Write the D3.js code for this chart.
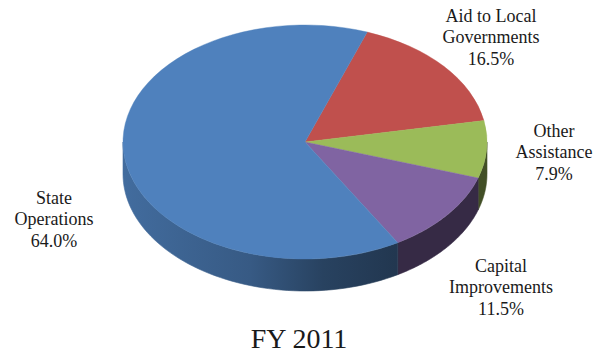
<!DOCTYPE html>
<html><head><meta charset="utf-8">
<script src="https://cdn.jsdelivr.net/npm/d3@7"></script>
<style>html,body{margin:0;padding:0;background:#fff;}svg{display:block;}
text,tspan{font-family:"Liberation Serif","Times New Roman",serif;}</style>
</head><body>
<svg id="chart" width="601" height="356"></svg>
<script>
const categories = ["Aid to Local Governments", "Other Assistance", "Capital Improvements", "State Operations"];
const values = [16.5, 7.9, 11.5, 64.0];
const labelLines = [["Aid to Local", "Governments", "16.5%"], ["Other", "Assistance", "7.9%"], ["Capital", "Improvements", "11.5%"], ["State", "Operations", "64.0%"]];
const colors = ["#C0504D", "#9BBB59", "#8064A2", "#4F81BD"];
const title = "FY 2011";

const svg = d3.select("#chart");
const cx = 305, cy = 142, rx = 182, ry = 117, depth = 32;
const labelPos = [[491, 22], [554, 137], [501, 272], [54, 204]];
const serif = "'Liberation Serif', 'Times New Roman', serif";

const pie = d3.pie().sort(null).value(d => d).startAngle(20 * Math.PI / 180).endAngle(20 * Math.PI / 180 + 2 * Math.PI);
const arcs = pie(values);

const defs = svg.append("defs");
const ex = a => cx + rx * Math.sin(a);
const ey = a => cy - ry * Math.cos(a);

arcs.forEach((a, i) => {
  const c = d3.rgb(colors[i]);
  const g = defs.append("linearGradient").attr("id", "side" + i)
    .attr("gradientUnits", "userSpaceOnUse")
    .attr("x1", cx - rx).attr("x2", cx + rx).attr("y1", 0).attr("y2", 0);
  [[0, 0.5], [0.35, 1.0], [0.55, 1.9], [0.75, 2.4], [1, 2.4]].forEach(([o, k]) => {
    g.append("stop").attr("offset", o).attr("stop-color", c.darker(k).formatHex());
  });
});

const sideG = svg.append("g");
const line = d3.line();
arcs.forEach((a, i) => {
  const ranges = [[Math.PI / 2, 3 * Math.PI / 2], [Math.PI / 2 + 2 * Math.PI, 3 * Math.PI / 2 + 2 * Math.PI]];
  ranges.forEach(([lo, hi]) => {
    const s = Math.max(a.startAngle, lo), e = Math.min(a.endAngle, hi);
    if (e <= s) return;
    const n = 60;
    const pts = [];
    for (let k = 0; k <= n; k++) { const t = s + (e - s) * k / n; pts.push([ex(t), ey(t)]); }
    for (let k = n; k >= 0; k--) { const t = s + (e - s) * k / n; pts.push([ex(t), ey(t) + depth]); }
    sideG.append("path").attr("d", line(pts) + "Z").attr("fill", `url(#side${i})`)
      .attr("stroke", `url(#side${i})`).attr("stroke-width", 0.6);
  });
});

const arcGen = d3.arc().innerRadius(0).outerRadius(rx);
svg.append("g").attr("transform", `translate(${cx},${cy}) scale(1,${ry / rx})`)
  .selectAll("path").data(arcs).join("path")
  .attr("d", arcGen).attr("fill", (d, i) => colors[i])
  .attr("stroke", (d, i) => colors[i]).attr("stroke-width", 0.5);

const lg = svg.append("g");
labelLines.forEach((lines, i) => {
  lines.forEach((s, j) => {
    lg.append("text").attr("x", labelPos[i][0]).attr("y", labelPos[i][1] + j * 21.3)
      .attr("text-anchor", "middle").attr("font-family", serif).attr("font-size", 18)
      .attr("fill", "#1a1a1a").text(s);
  });
});

svg.append("text").attr("x", 299).attr("y", 348).attr("text-anchor", "middle")
  .attr("font-family", serif).attr("font-size", 28).attr("fill", "#1a1a1a").text(title);
</script>
</body></html>
